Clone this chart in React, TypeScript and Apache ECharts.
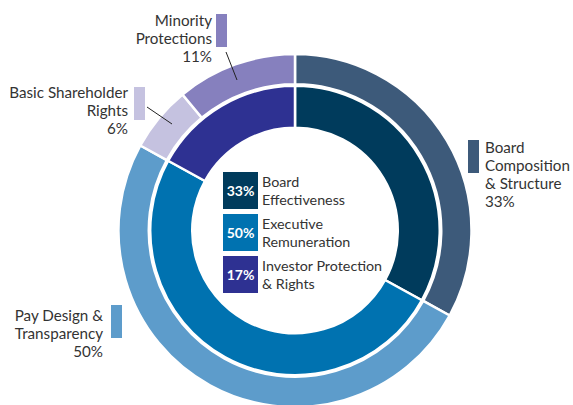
import React, { useEffect, useRef } from "react";
import * as echarts from "echarts";

const innerNames = ["Board Effectiveness", "Executive Remuneration", "Investor Protection & Rights"];
const innerValues = [33, 50, 17];
const innerColors = ["#003b5c", "#0072b0", "#2e3192"];
const innerLegendLines = [["Board", "Effectiveness"], ["Executive", "Remuneration"], ["Investor Protection", "& Rights"]];

const outerNames = ["Board Composition & Structure", "Pay Design & Transparency", "Basic Shareholder Rights", "Minority Protections"];
const outerValues = [33, 50, 6, 11];
const outerColors = ["#3d5a7a", "#5d9ccb", "#c5c2e0", "#8680be"];
const outerLabelLines = [
  ["Board", "Composition", "& Structure"],
  ["Pay Design &", "Transparency"],
  ["Basic Shareholder", "Rights"],
  ["Minority", "Protections"],
];

// label layout (positions only)
const outerLabelLayout = [
  { tx: 485, ty: 138, align: "left", sx: 468, sy: 140, line: null },
  { tx: 103, ty: 306, align: "right", sx: 111, sy: 305, line: null },
  { tx: 128, ty: 83, align: "right", sx: 134, sy: 87, line: [[147, 107], [172, 124]] },
  { tx: 212, ty: 11, align: "right", sx: 216, sy: 14, line: [[226, 52], [237, 80]] },
];

const FONT = "Lato, 'Open Sans', sans-serif";
const TEXT = "#333333";

export default function App() {
  const ref = useRef<HTMLDivElement>(null);
  useEffect(() => {
    const chart = echarts.init(ref.current!, null, { renderer: "svg" });
    const graphic: any[] = [];
    outerNames.forEach((n, i) => {
      const L = outerLabelLayout[i];
      graphic.push({
        type: "text",
        x: L.tx,
        y: L.ty,
        style: {
          text: [...outerLabelLines[i], outerValues[i] + "%"].join("\n"),
          font: `15.2px ${FONT}`,
          fill: TEXT,
          align: L.align,
          verticalAlign: "top",
          lineHeight: 18,
        },
      });
      graphic.push({
        type: "rect",
        shape: { x: L.sx, y: L.sy, width: 11, height: 33 },
        style: { fill: outerColors[i] },
      });
      if (L.line) {
        graphic.push({
          type: "line",
          shape: { x1: L.line[0][0], y1: L.line[0][1], x2: L.line[1][0], y2: L.line[1][1] },
          style: { stroke: "#222", lineWidth: 1 },
          z: 10,
        });
      }
    });
    innerNames.forEach((n, i) => {
      const by = 172 + i * 42;
      graphic.push({
        type: "rect",
        shape: { x: 223, y: by, width: 35, height: 37 },
        style: { fill: innerColors[i] },
      });
      graphic.push({
        type: "text",
        x: 240.5,
        y: by + 18.5,
        style: {
          text: innerValues[i] + "%",
          font: `bold 14px ${FONT}`,
          fill: "#ffffff",
          align: "center",
          verticalAlign: "middle",
        },
      });
      graphic.push({
        type: "text",
        x: 262,
        y: by + 1,
        style: {
          text: innerLegendLines[i].join("\n"),
          font: `14.3px ${FONT}`,
          fill: TEXT,
          align: "left",
          verticalAlign: "top",
          lineHeight: 17.5,
        },
      });
    });

    chart.setOption({
      animation: false,
      backgroundColor: "#ffffff",
      graphic,
      series: [
        {
          type: "pie",
          center: [295, 230.5],
          radius: [146.25, 176.5],
          startAngle: 90,
          clockwise: true,
          label: { show: false },
          labelLine: { show: false },
          emphasis: { disabled: true },
          itemStyle: { borderColor: "#ffffff", borderWidth: 2.5 },
          data: outerNames.map((n, i) => ({ name: n, value: outerValues[i], itemStyle: { color: outerColors[i] } })),
        },
        {
          type: "pie",
          center: [295, 230.5],
          radius: [102.75, 144.75],
          startAngle: 90,
          clockwise: true,
          label: { show: false },
          labelLine: { show: false },
          emphasis: { disabled: true },
          itemStyle: { borderColor: "#ffffff", borderWidth: 2.5 },
          data: innerNames.map((n, i) => ({ name: n, value: innerValues[i], itemStyle: { color: innerColors[i] } })),
        },
      ],
    });
    return () => chart.dispose();
  }, []);
  return <div ref={ref} style={{ position: "fixed", left: 0, top: 0, width: 573, height: 405 }} />;
}
